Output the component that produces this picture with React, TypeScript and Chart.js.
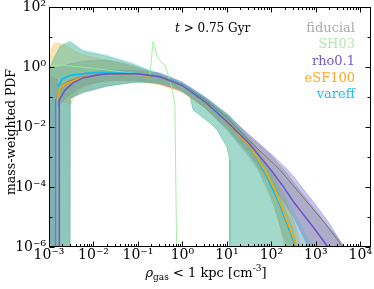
import React, { useEffect, useRef } from 'react';
import { Chart, registerables } from 'chart.js';
Chart.register(...registerables);

// ---------- axis ticks ----------
const xTicks = [1e-3, 1e-2, 1e-1, 1, 10, 100, 1000, 10000];
const xTickLabels = ['10⁻³', '10⁻²', '10⁻¹', '10⁰', '10¹', '10²', '10³', '10⁴'];
const yTicks = [1e-6, 1e-4, 1e-2, 1, 100];
const yTickLabels = ['10⁻⁶', '10⁻⁴', '10⁻²', '10⁰', '10²'];
const yMinorTicks = [1e-5, 1e-3, 1e-1, 10];
const xMinorMultipliers = [2, 3, 4, 5, 6, 7, 8, 9];

const seriesNames = ['fiducial', 'SH03', 'rho0.1', 'eSF100', 'vareff'];

// ---------- median lines ----------
const rhoX = [1.7e-3, 1.7e-3, 2.29e-3, 3.47e-3, 5.75e-3, 1.2e-2, 2.0e-2, 0.1, 0.316, 1, 3.16, 10, 31.6, 100, 178, 316, 562, 1000, 1862, 2239];
const rhoY = [1e-12, 0.0794, 0.17, 0.295, 0.427, 0.537, 0.589, 0.589, 0.468, 0.24, 0.0708, 0.0151, 2.82e-3, 3.55e-4, 1.12e-4, 3.16e-5, 1.05e-5, 3.55e-6, 1e-6, 5e-7];

const esfX = [1.51e-3, 1.78e-3, 2.51e-3, 5.01e-3, 1.26e-2, 6.31e-2, 0.316, 1, 3.16, 10, 31.6, 70.8, 100, 155, 234, 372, 417];
const esfY = [0.0794, 0.2, 0.282, 0.427, 0.537, 0.575, 0.468, 0.24, 0.0708, 0.0151, 2.51e-3, 3.72e-4, 1.41e-4, 3.16e-5, 6.31e-6, 1e-6, 3.98e-7];

const varX = [1.58e-3, 2.0e-3, 3.16e-3, 7.94e-3, 3.16e-2, 0.1, 0.316, 1, 3.16, 10, 31.6, 70.8, 155, 234, 355, 398];
const varY = [0.224, 0.398, 0.537, 0.631, 0.631, 0.603, 0.479, 0.251, 0.0741, 0.0158, 2.51e-3, 3.16e-4, 2.51e-5, 5.01e-6, 1e-6, 3.98e-7];

const fidX = [1.41e-3, 1.41e-3, 1.78e-3, 2.51e-3, 5.01e-3, 1.26e-2, 6.31e-2, 0.316, 1, 3.16, 10, 31.6, 155, 661, 1585, 3467, 4467];
const fidY = [1e-12, 0.0794, 0.178, 0.316, 0.447, 0.55, 0.589, 0.49, 0.263, 0.0832, 0.0209, 3.55e-3, 3.72e-4, 2.95e-5, 6.31e-6, 1.35e-6, 6.31e-7];

const shX = [1e-3, 1.78e-3, 8.32e-3, 4.57e-2, 0.11, 0.186, 0.219, 0.275, 0.347, 0.407, 0.575, 0.676, 0.741, 0.759];
const shY = [1.12, 1.17, 0.933, 0.676, 0.589, 0.501, 7.08, 2.14, 1.35, 1.17, 0.214, 0.0631, 1e-6, 1e-12];

// ---------- percentile bands ----------
const varBandX = [1e-3, 1.26e-3, 1.78e-3, 2.95e-3, 3.02e-3, 5.75e-3, 2.0e-2, 7.76e-2, 0.186, 0.617, 1.48, 1.74, 4.17, 6.03, 10, 11.5, 11.7, 31.6, 100, 288, 851, 1000];
const varBandHi = [0.891, 2.0, 5.25, 7.41, 7.41, 3.72, 2.51, 1.35, 0.794, 0.427, 0.209, 0.182, 0.0794, 0.0501, 0.0282, 0.024, 0.0234, 4.47e-3, 3.16e-4, 2.0e-5, 1e-6, 3.16e-7];
const varBandLo = [1e-12, 1e-12, 1e-12, 1e-12, 0.0933, 0.148, 0.234, 0.302, 0.316, 0.251, 0.1, 0.0372, 0.0135, 7.94e-3, 2.14e-3, 7.94e-4, 1e-12, 1e-12, 1e-12, 1e-12, 1e-12, 1e-12];

const shBandHi = [0.794, 1.78, 4.79, 6.76, 6.76, 3.39, 2.29, 1.23, 0.724, 0.389, 0.191, 0.166, 0.0724, 0.0457, 0.0257, 0.0219, 0.0214, 3.16e-3, 2.51e-4, 5.01e-6, 1e-8, 1e-9];
const shBandLo = [1e-12, 1e-12, 1e-12, 1e-12, 0.0933, 0.148, 0.234, 0.302, 0.316, 0.251, 0.1, 0.0372, 0.0135, 7.94e-3, 2.14e-3, 7.94e-4, 1e-12, 1e-12, 1e-12, 1e-12, 1e-12, 1e-12];

const fidBandX = [1e-3, 1.78e-3, 2.88e-3, 2.95e-3, 6.31e-3, 2.0e-2, 4.57e-2, 0.11, 0.269, 0.871, 1.48, 3.16, 10, 31.6, 50.1, 100, 224, 316, 794, 1995, 2818, 5012];
const fidBandHi = [0.794, 1, 1.259, 1.259, 1.585, 1.698, 1.349, 0.933, 0.631, 0.316, 0.209, 0.1, 0.0282, 5.01e-3, 2.82e-3, 1.12e-3, 2.82e-4, 1.41e-4, 2.51e-5, 4.47e-6, 2.51e-6, 7.94e-7];
const fidBandLo = [1e-12, 1e-12, 1e-12, 0.0891, 0.141, 0.224, 0.282, 0.316, 0.282, 0.178, 0.112, 0.0447, 7.94e-3, 1e-3, 3.72e-4, 3.98e-5, 1e-6, 1e-7, 1e-9, 1e-10, 1e-11, 1e-12];

const esfBandX = [1e-3, 1.12e-3, 1.26e-3, 1.41e-3, 1.78e-3, 2.51e-3, 3.16e-3, 3.55e-3, 5.75e-3, 1.2e-2, 3.39e-2, 0.1, 0.316, 1, 3.16, 10, 31.6, 70.8, 126, 200, 282, 398, 501];
const esfBandHi = [1.479, 3.98, 5.62, 6.31, 6.03, 5.01, 3.98, 3.55, 2.51, 2.0, 1.41, 0.891, 0.501, 0.251, 0.0891, 0.0209, 4.17e-3, 8.91e-4, 1.78e-4, 4.47e-5, 1.26e-5, 2.51e-6, 5.01e-7];
const esfBandLo = [0.794, 0.316, 0.158, 0.1, 0.0794, 0.0631, 0.0562, 0.1, 0.2, 0.302, 0.355, 0.339, 0.251, 0.141, 0.0447, 0.01, 1.41e-3, 1.78e-4, 2.0e-5, 1e-6, 1e-7, 1e-8, 1e-9];

const rhoBandX = [1e-3, 1.48e-3, 1.51e-3, 1.66e-3, 2.51e-3, 6.31e-3, 2.0e-2, 0.1, 0.316, 1, 3.16, 10, 31.6, 100, 234, 316, 1000, 1995, 3981, 5012];
const rhoBandHi = [0.501, 0.398, 0.355, 0.251, 0.316, 0.631, 0.794, 0.794, 0.631, 0.316, 0.1, 0.0251, 5.62e-3, 1.26e-3, 3.72e-4, 2.24e-4, 2.51e-5, 6.31e-6, 1.17e-6, 5.01e-7];
const rhoBandLo = [1e-12, 1e-12, 0.0447, 0.0501, 0.1, 0.251, 0.355, 0.355, 0.282, 0.151, 0.0447, 8.91e-3, 1.26e-3, 1.26e-4, 2.0e-5, 1e-5, 3.16e-7, 1e-8, 1e-9, 1e-10];

const SERIF = '"DejaVu Serif", serif';

const pts = (xs: number[], ys: number[]) => xs.map((x, i) => ({ x, y: ys[i] }));

type Run = { t: string; f: string; dy?: number };

function drawRuns(ctx: CanvasRenderingContext2D, runs: Run[], x: number, y: number, align: 'left' | 'center' | 'right', color: string) {
  let total = 0;
  for (const r of runs) {
    ctx.font = r.f;
    total += ctx.measureText(r.t).width;
  }
  let cx = align === 'left' ? x : align === 'center' ? x - total / 2 : x - total;
  ctx.fillStyle = color;
  ctx.textAlign = 'left';
  ctx.textBaseline = 'alphabetic';
  for (const r of runs) {
    ctx.font = r.f;
    ctx.fillText(r.t, cx, y + (r.dy || 0));
    cx += ctx.measureText(r.t).width;
  }
}

const legendColors = ['#ababab', '#b4e6b4', '#6c5ccf', '#ffa726', '#1bbef6'];

const overlay = {
  id: 'overlay',
  afterDraw(chart: any) {
    const { ctx, chartArea: a, scales } = chart;
    const xs = scales.x;
    const ys = scales.y;
    ctx.save();
    const L = Math.round(a.left) + 0.5;
    const R = Math.round(a.right) - 0.5;
    const T = Math.round(a.top) + 0.5;
    const B = Math.round(a.bottom) - 0.5;
    ctx.strokeStyle = '#000';
    ctx.lineWidth = 1;
    ctx.beginPath();
    for (let k = -3; k <= 4; k++) {
      const v = Math.pow(10, k);
      const px = Math.round(xs.getPixelForValue(v)) + 0.5;
      ctx.moveTo(px, B); ctx.lineTo(px, B - 5);
      ctx.moveTo(px, T); ctx.lineTo(px, T + 5);
      for (const m of xMinorMultipliers) {
        const mv = m * v;
        if (mv > xs.max) continue;
        const mp = Math.round(xs.getPixelForValue(mv)) + 0.5;
        ctx.moveTo(mp, B); ctx.lineTo(mp, B - 2.5);
        ctx.moveTo(mp, T); ctx.lineTo(mp, T + 2.5);
      }
    }
    for (const v of yTicks) {
      const py = Math.round(ys.getPixelForValue(v)) + 0.5;
      ctx.moveTo(L, py); ctx.lineTo(L + 5, py);
      ctx.moveTo(R, py); ctx.lineTo(R - 5, py);
    }
    for (const v of yMinorTicks) {
      const py = Math.round(ys.getPixelForValue(v)) + 0.5;
      ctx.moveTo(L, py); ctx.lineTo(L + 3, py);
      ctx.moveTo(R, py); ctx.lineTo(R - 3, py);
    }
    ctx.stroke();
    ctx.strokeRect(L, T, R - L, B - T);

    // y title
    ctx.save();
    ctx.translate(12, 132);
    ctx.rotate(-Math.PI / 2);
    ctx.font = `12.5px ${SERIF}`;
    ctx.fillStyle = '#000';
    ctx.textAlign = 'center';
    ctx.textBaseline = 'middle';
    ctx.fillText('mass-weighted PDF', 0, 0);
    ctx.restore();

    // x title
    drawRuns(ctx, [
      { t: 'ρ', f: `italic 13px ${SERIF}` },
      { t: 'gas', f: `9px ${SERIF}`, dy: 3 },
      { t: ' < 1 kpc [cm', f: `13px ${SERIF}` },
      { t: '-3', f: `9px ${SERIF}`, dy: -6 },
      { t: ']', f: `13px ${SERIF}` },
    ], 206, 277, 'center', '#000');

    // annotation
    drawRuns(ctx, [
      { t: 't', f: `italic 12px ${SERIF}` },
      { t: ' > 0.75 Gyr', f: `12px ${SERIF}` },
    ], 175, 31.5, 'left', '#000');

    // legend (colored labels, right aligned)
    const baselines = [31.5, 48.2, 64.9, 81.6, 98.3];
    seriesNames.forEach((n, i) => {
      drawRuns(ctx, [{ t: n, f: `13px ${SERIF}` }], 355, baselines[i], 'right', legendColors[i]);
    });
    ctx.restore();
  },
};

export default function App() {
  const ref = useRef<HTMLCanvasElement>(null);
  useEffect(() => {
    document.body.style.margin = '0';
    const canvas = ref.current!;
    const line = (xs: number[], ys: number[], color: string, width: number) => ({
      data: pts(xs, ys), borderColor: color, borderWidth: width, pointRadius: 0, fill: false, tension: 0,
    });
    const hi = (xs: number[], ys: number[], fillColor: string) => ({
      data: pts(xs, ys), borderColor: fillColor, borderWidth: 0.8, pointRadius: 0, fill: '+1', backgroundColor: fillColor, tension: 0,
    });
    const lo = (xs: number[], ys: number[], fillColor: string) => ({
      data: pts(xs, ys), borderColor: fillColor, borderWidth: 0.8, pointRadius: 0, fill: false, tension: 0,
    });
    const cVar = 'rgba(0,191,255,0.18)';
    const cSh = 'rgba(130,185,110,0.45)';
    const cFid = 'rgba(110,115,115,0.3)';
    const cEsf = 'rgba(255,165,0,0.3)';
    const cRho = 'rgba(106,90,205,0.35)';
    const datasets: any[] = [
      line(rhoX, rhoY, '#6a5acd', 1.6),
      line(esfX, esfY, '#ffa500', 1.6),
      line(varX, varY, '#00bfff', 1.6),
      line(fidX, fidY, '#777777', 1),
      line(shX, shY, 'rgba(144,238,144,0.85)', 1),
      hi(varBandX, varBandHi, cVar), lo(varBandX, varBandLo, cVar),
      hi(varBandX, shBandHi, cSh), lo(varBandX, shBandLo, cSh),
      hi(fidBandX, fidBandHi, cFid), lo(fidBandX, fidBandLo, cFid),
      hi(esfBandX, esfBandHi, cEsf), lo(esfBandX, esfBandLo, cEsf),
      hi(rhoBandX, rhoBandHi, cRho), lo(rhoBandX, rhoBandLo, cRho),
    ];
    const chart = new Chart(canvas, {
      type: 'line',
      data: { datasets },
      options: {
        animation: false,
        responsive: false,
        devicePixelRatio: 1,
        parsing: false as any,
        normalized: true,
        layout: { padding: { left: 0, right: 3, top: 7, bottom: 0 } },
        plugins: { legend: { display: false }, tooltip: { enabled: false } },
        scales: {
          x: {
            type: 'logarithmic', min: 1e-3, max: 1.74e4,
            grid: { display: false, drawTicks: false }, border: { display: false },
            afterBuildTicks: (s: any) => { s.ticks = xTicks.map((v) => ({ value: v })); },
            afterFit: (s: any) => { s.height = 42; s.paddingLeft = 0; s.paddingRight = 0; },
            ticks: {
              autoSkip: false, maxRotation: 0, minRotation: 0, padding: 0, color: '#000',
              font: { family: SERIF, size: 14 },
              callback: (_v: any, i: number) => xTickLabels[i],
            },
          },
          y: {
            type: 'logarithmic', min: 1e-6, max: 100,
            grid: { display: false, drawTicks: false }, border: { display: false },
            afterBuildTicks: (s: any) => { s.ticks = yTicks.map((v) => ({ value: v })); },
            afterFit: (s: any) => { s.width = 49; s.paddingTop = 0; s.paddingBottom = 0; },
            ticks: {
              autoSkip: false, padding: 3, color: '#000',
              font: { family: SERIF, size: 14 },
              callback: (_v: any, i: number) => yTickLabels[i],
            },
          },
        },
      } as any,
      plugins: [overlay],
    });
    return () => chart.destroy();
  }, []);
  return <canvas ref={ref} width={374} height={289} style={{ display: 'block' }} />;
}
